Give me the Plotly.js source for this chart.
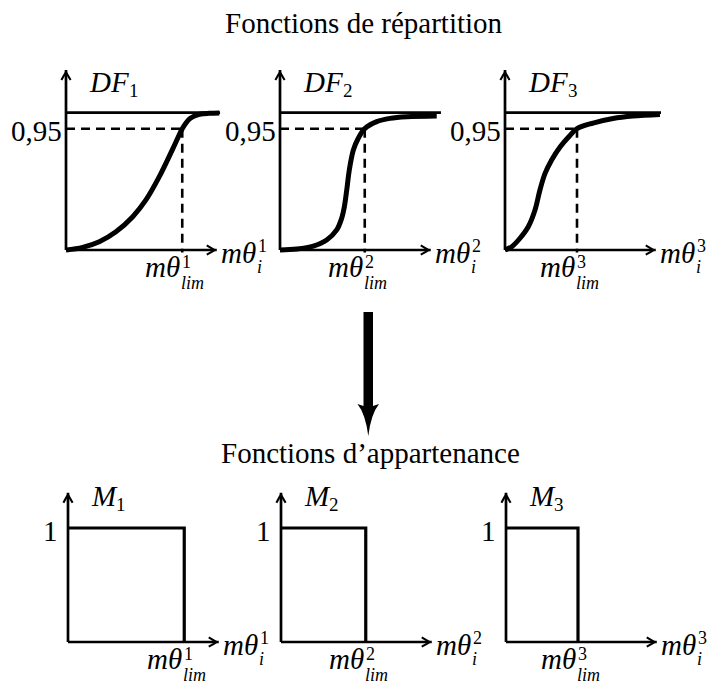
<!DOCTYPE html>
<html>
<head>
<meta charset="utf-8">
<script src="https://cdn.plot.ly/plotly-3.0.1.min.js"></script>
<style>
  html, body { margin: 0; padding: 0; background: #ffffff; }
  #chart { width: 707px; height: 686px; }
</style>
</head>
<body>
<div id="chart"></div>
<script>
// ---------------------------------------------------------------
// Values (abscissa: mθ_i, ordinate: cumulative probability)
// ---------------------------------------------------------------
const titleTop = 'Fonctions de répartition';
const titleBottom = 'Fonctions d’appartenance';
const indices = ['1', '2', '3'];
const cdfName = 'DF';
const membershipName = 'M';

const df1X = [0, 1.11, 2.22, 3.33, 4.45, 5.33, 6.22, 7.11, 7.75, 8.0, 8.22, 8.45, 8.67, 9.0, 9.55, 10.22];
const df1Y = [0, 0.021, 0.065, 0.143, 0.261, 0.392, 0.574, 0.79, 0.95, 0.995, 1.025, 1.043, 1.055, 1.065, 1.07, 1.073];

const df2X = [0, 1.11, 2.22, 3.11, 3.78, 4.11, 4.29, 4.45, 4.62, 4.89, 5.22, 5.65, 6.45, 7.33, 8.45, 10.45];
const df2Y = [0, 0.008, 0.031, 0.078, 0.157, 0.248, 0.339, 0.47, 0.626, 0.783, 0.875, 0.95, 1.005, 1.031, 1.044, 1.05];

const df3X = [0, 0.45, 1.0, 1.55, 2.0, 2.33, 2.67, 3.11, 3.67, 4.3, 4.8, 5.87, 7.2, 8.53, 10.33];
const df3Y = [0, 0.026, 0.092, 0.182, 0.313, 0.47, 0.6, 0.705, 0.807, 0.893, 0.95, 0.994, 1.03, 1.049, 1.061];

const quantileLevel = 0.95;        // level of the dashed line
const quantileText = '0,95';
const plateauLevel = 1.075;        // asymptote drawn above the curves
const plateauEnd = [10.27, 10.73, 10.4];
const thetaLim = [7.75, 5.65, 4.8]; // mθ_lim for each distribution

const membershipLevel = 1;
const membershipText = '1';

// ---------------------------------------------------------------
// Geometry of the six small frames (pixels on the page)
// ---------------------------------------------------------------
const W = 707, H = 686;
const SX = 15;                     // px per abscissa unit
const SY_TOP = 127.7, SY_BOT = 114;
const originsTop = [[66, 250], [280, 250], [505, 250]];
const originsBot = [[68, 642], [281, 642], [506, 642]];
const XR = [-0.6, 11];
const YR_TOP = [-0.35, 1.5], YR_BOT = [-0.35, 1.45];
const AX_LEN = 10.05, AY_TOP = 1.41, AY_BOT = 1.31;

const FONT_NAME = 'Liberation Serif';
const FONT = FONT_NAME + ', Times New Roman, serif';
const BIG = 29, SMALL = 18, INDEX = 19;
const INK = '#000000';

// width of a piece of text, used to hang indices after a symbol
const measureCtx = document.createElement('canvas').getContext('2d');
function textWidth(str, size, italic) {
  measureCtx.font = (italic ? 'italic ' : '') + size + 'px "' + FONT_NAME + '"';
  return measureCtx.measureText(str).width;
}
const THETA_W = textWidth('mθ', BIG, true);
const DF_W = textWidth(cdfName, BIG, true);
const M_W = textWidth(membershipName, BIG, true);

const layout = {
  width: W, height: H,
  margin: { l: 0, r: 0, t: 0, b: 0 },
  paper_bgcolor: '#ffffff', plot_bgcolor: 'rgba(0,0,0,0)',
  showlegend: false,
  annotations: [], shapes: []
};
const traces = [];

function frame(n, origin, sy, yr) {
  const [ox, oy] = origin;
  const xs = n === 1 ? '' : String(n);
  layout['xaxis' + xs] = {
    domain: [(ox + XR[0] * SX) / W, (ox + XR[1] * SX) / W],
    range: XR, visible: false, fixedrange: true, anchor: 'y' + xs
  };
  layout['yaxis' + xs] = {
    domain: [1 - (oy - yr[0] * sy) / H, 1 - (oy - yr[1] * sy) / H],
    range: yr, visible: false, fixedrange: true, anchor: 'x' + xs
  };
  return { x: 'x' + xs, y: 'y' + xs, sy: sy };
}

function line(ref, xs, ys, width, extra) {
  traces.push({
    type: 'scatter', mode: 'lines', x: xs, y: ys,
    xaxis: ref.x, yaxis: ref.y, hoverinfo: 'skip',
    line: Object.assign({ color: INK, width: width }, extra || {})
  });
}

function text(ref, x, y, t, size, xanchor, xshift, yshift, style) {
  layout.annotations.push({
    xref: ref.x, yref: ref.y, x: x, y: y, text: t, showarrow: false,
    font: { family: FONT, size: size, color: INK, style: style || 'normal' },
    xanchor: xanchor, yanchor: 'middle', xshift: xshift, yshift: yshift,
    borderpad: 0
  });
}

// open arrow tip: flank offsets in pixels (back, side) from the point
const TIP = [[-10, 4.6], [-5, 1.8], [-2.2, 0], [-5, -1.8], [-10, -4.6]];

// axes drawn as lines ending in an open arrow tip
function axes(ref, xLen, yLen) {
  line(ref, [0, xLen], [0, 0], 2.7);
  line(ref, [0, 0], [0, yLen], 2.7);
  line(ref, TIP.map(p => xLen + p[0] / SX), TIP.map(p => p[1] / ref.sy), 2.1);
  line(ref, TIP.map(p => p[1] / SX), TIP.map(p => yLen + p[0] / ref.sy), 2.1);
}

// mθ with a stacked superscript / subscript pair; dxRight = right edge of "mθ"
function thetaLabel(ref, x, dxRight, sup, sub, dyMain, dySup, dySub) {
  text(ref, x, 0, 'mθ', BIG, 'left', dxRight - THETA_W, dyMain, 'italic');
  text(ref, x, 0, sup, SMALL, 'left', dxRight + 2, dySup);
  text(ref, x, 0, sub, SMALL, 'left', dxRight + 1, dySub, 'italic');
}

// italic function name with an upright lowered index, above the ordinate
function nameLabel(ref, name, width, idx, dy) {
  text(ref, 0, 0, name, BIG, 'left', 22, dy, 'italic');
  text(ref, 0, 0, idx, INDEX, 'left', 22 + width + 1, dy - 8.5);
}

const dfX = [df1X, df2X, df3X];
const dfY = [df1Y, df2Y, df3Y];

// ---------------- distribution functions ----------------
for (let k = 0; k < 3; k++) {
  const ref = frame(k + 1, originsTop[k], SY_TOP, YR_TOP);
  const lim = thetaLim[k];
  line(ref, [0, plateauEnd[k]], [plateauLevel, plateauLevel], 2.7);
  line(ref, [0, lim], [quantileLevel, quantileLevel], 2.6, { dash: '9px,6px' });
  line(ref, [lim, lim], [quantileLevel, -0.02], 2.6, { dash: '9px,6px' });
  line(ref, dfX[k], dfY[k], 5, { shape: 'spline', smoothing: 1 });
  axes(ref, AX_LEN, AY_TOP);

  nameLabel(ref, cdfName, DF_W, indices[k], 168);
  text(ref, 0, quantileLevel, quantileText, BIG, 'right', -3, -2);
  thetaLabel(ref, lim, -3, indices[k], 'lim', -17, -12, -33);
  thetaLabel(ref, AX_LEN, 3 + THETA_W, indices[k], 'i', -3, 4, -17);
}

// ---------------- membership functions ----------------
for (let k = 0; k < 3; k++) {
  const ref = frame(k + 4, originsBot[k], SY_BOT, YR_BOT);
  const lim = thetaLim[k];
  line(ref, [0, lim, lim], [membershipLevel, membershipLevel, 0], 3.2);
  axes(ref, AX_LEN, AY_BOT);

  nameLabel(ref, membershipName, M_W, indices[k], 146);
  text(ref, 0, membershipLevel, membershipText, BIG, 'right', -9, -3);
  thetaLabel(ref, lim, -3, indices[k], 'lim', -17, -12, -33);
  thetaLabel(ref, AX_LEN, 3 + THETA_W, indices[k], 'i', -3, 4, -17);
}

// ---------------- headings ----------------
function heading(t, cx, cy) {
  layout.annotations.push({
    xref: 'paper', yref: 'paper', x: cx / W, y: 1 - cy / H, text: t,
    showarrow: false, xanchor: 'center', yanchor: 'middle',
    font: { family: FONT, size: BIG, color: INK }
  });
}
heading(titleTop, 363.5, 23);
heading(titleBottom, 370, 453);

// ---------------- transition arrow between the two rows ----------------
function px(x, y) { return (x / W).toFixed(5) + ',' + (1 - y / H).toFixed(5); }
layout.shapes.push({
  type: 'path', xref: 'paper', yref: 'paper', fillcolor: INK,
  line: { width: 0 },
  path: 'M' + px(363.5, 312) + ' L' + px(373, 312) + ' L' + px(373, 406) +
        ' L' + px(379, 404) + ' Q' + px(371, 414) + ' ' + px(368.3, 436) +
        ' Q' + px(365.5, 414) + ' ' + px(357.5, 404) +
        ' L' + px(363.5, 406) + ' Z'
});

Plotly.newPlot('chart', traces, layout, { displayModeBar: false, staticPlot: true });
</script>
</body>
</html>
